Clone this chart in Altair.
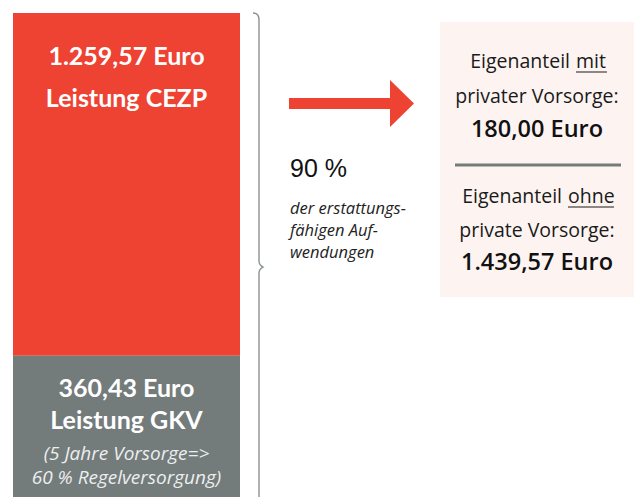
import altair as alt
import pandas as pd

W, H = 636, 497
FONT = "Lato"
BOXFONT = "Open Sans"
RED = "#EE4232"
GRAY = "#737B7B"

# ---- data ----
segments = ["Leistung CEZP", "Leistung GKV"]
amounts = [1259.57, 360.43]
stack_order = [2, 1]
seg_colors = [RED, GRAY]

red_label = ["1.259,57 Euro", "Leistung CEZP"]
gray_label = ["360,43 Euro", "Leistung GKV"]
gray_note = ["(5 Jahre Vorsorge=>", "60 % Regelversorgung)"]
pct_label = "90 %"
pct_note = ["der erstattungs-", "fähigen Auf-", "wendungen"]
box_with = ["Eigenanteil", "mit", "privater Vorsorge:", "180,00 Euro"]
box_without = ["Eigenanteil", "ohne", "private Vorsorge:", "1.439,57 Euro"]

one = pd.DataFrame({"k": [0]})

bar_df = pd.DataFrame({"segment": segments, "amount": amounts,
                       "order": stack_order, "col": ["Zahnersatz"] * 2})

bars = alt.Chart(bar_df).mark_bar(opacity=1).encode(
    x=alt.X("col:N", axis=None,
            scale=alt.Scale(range=[13, 240], paddingInner=0, paddingOuter=0)),
    y=alt.Y("amount:Q", stack="zero", axis=None,
            scale=alt.Scale(type="pow", exponent=0.82, domain=[0, 1620],
                            range=[H, 13], nice=False, zero=True)),
    color=alt.Color("segment:N", legend=None,
                    scale=alt.Scale(domain=segments, range=seg_colors)),
    order=alt.Order("order:Q"),
)


def txt(s, x, y, size, weight="normal", style="normal", color="#1a1a1a",
        font=FONT, align="center"):
    return alt.Chart(pd.DataFrame({"t": [s]})).mark_text(
        font=font, fontSize=size, fontWeight=weight, fontStyle=style,
        color=color, align=align, baseline="alphabetic"
    ).encode(text="t:N", x=alt.value(x), y=alt.value(y))


def rule(x1, x2, y, color, width):
    return alt.Chart(one).mark_rule(color=color, strokeWidth=width).encode(
        x=alt.value(x1), x2=alt.value(x2), y=alt.value(y))


BX = 126.5
layers = [bars]
layers.append(txt(red_label[0], BX, 65, 25, weight="bold", color="white"))
layers.append(txt(red_label[1], BX, 107, 25, weight="bold", color="white"))
layers.append(txt(gray_label[0], BX, 397, 25, weight="bold", color="white"))
layers.append(txt(gray_label[1], BX, 429, 25, weight="bold", color="white"))
layers.append(txt(gray_note[0], BX, 460, 19, style="italic", color="#eceeee", font=BOXFONT))
layers.append(txt(gray_note[1], BX, 484, 19, style="italic", color="#eceeee", font=BOXFONT))

# brace
brace_path = ("M-0.0124,-1 Q0.0124,-1 0.0124,-0.9711 L0.0124,0.0248 "
              "Q0.0124,0.0413 0.0289,0.0496 Q0.0124,0.0579 0.0124,0.0744 L0.0124,1")
brace = alt.Chart(one).mark_point(
    shape=brace_path, filled=False, size=484 * 484, stroke="#8C9292",
    strokeWidth=1.4, opacity=1
).encode(x=alt.value(256), y=alt.value(255))
layers.append(brace)

# arrow
arrow_path = ("M-1,-0.088 L0.616,-0.088 L0.616,-0.376 L1,0 L0.616,0.376 "
              "L0.616,0.088 L-1,0.088 Z")
arrow = alt.Chart(one).mark_point(
    shape=arrow_path, filled=True, size=125 * 125, color=RED, opacity=1,
    strokeWidth=0
).encode(x=alt.value(351.5), y=alt.value(103.5))
layers.append(arrow)

layers.append(txt(pct_label, 290, 177, 25, font="Liberation Sans", align="left", color="#111111"))
for i, s in enumerate(pct_note):
    layers.append(txt(s, 290, 214 + 22 * i, 16.5, style="italic", align="left",
                      color="#222222", font=BOXFONT))

# right box
box = alt.Chart(one).mark_rect(color="#FDF4F1").encode(
    x=alt.value(440), x2=alt.value(634), y=alt.value(22), y2=alt.value(297))
layers.append(box)

CX = 537
TXT = "#1a1a1a"
layers.append(txt(box_with[0], 570, 68, 19.5, font=BOXFONT, align="right", color=TXT))
layers.append(txt(box_with[1], 576, 68, 19.5, font=BOXFONT, align="left", color=TXT))
layers.append(rule(576, 607, 72, TXT, 1))
layers.append(txt(box_with[2], CX, 103, 19.5, font=BOXFONT, color=TXT))
layers.append(txt(box_with[3], CX, 137, 23.5, weight=600, font=BOXFONT, color="#111111"))
layers.append(rule(455, 621, 165, GRAY, 3))
layers.append(txt(box_without[0], 562, 203, 19.5, font=BOXFONT, align="right", color=TXT))
layers.append(txt(box_without[1], 568, 203, 19.5, font=BOXFONT, align="left", color=TXT))
layers.append(rule(568, 614, 207, TXT, 1))
layers.append(txt(box_without[2], CX, 237, 19.5, font=BOXFONT, color=TXT))
layers.append(txt(box_without[3], CX, 270, 23.5, weight=600, font=BOXFONT, color="#111111"))

chart = alt.layer(*layers).properties(
    width=W, height=H, autosize=alt.AutoSizeParams(type="none"),
    padding=0, background="white"
).configure_view(stroke=None)

chart.save("out.html", embed_options={"renderer": "svg", "actions": False})
